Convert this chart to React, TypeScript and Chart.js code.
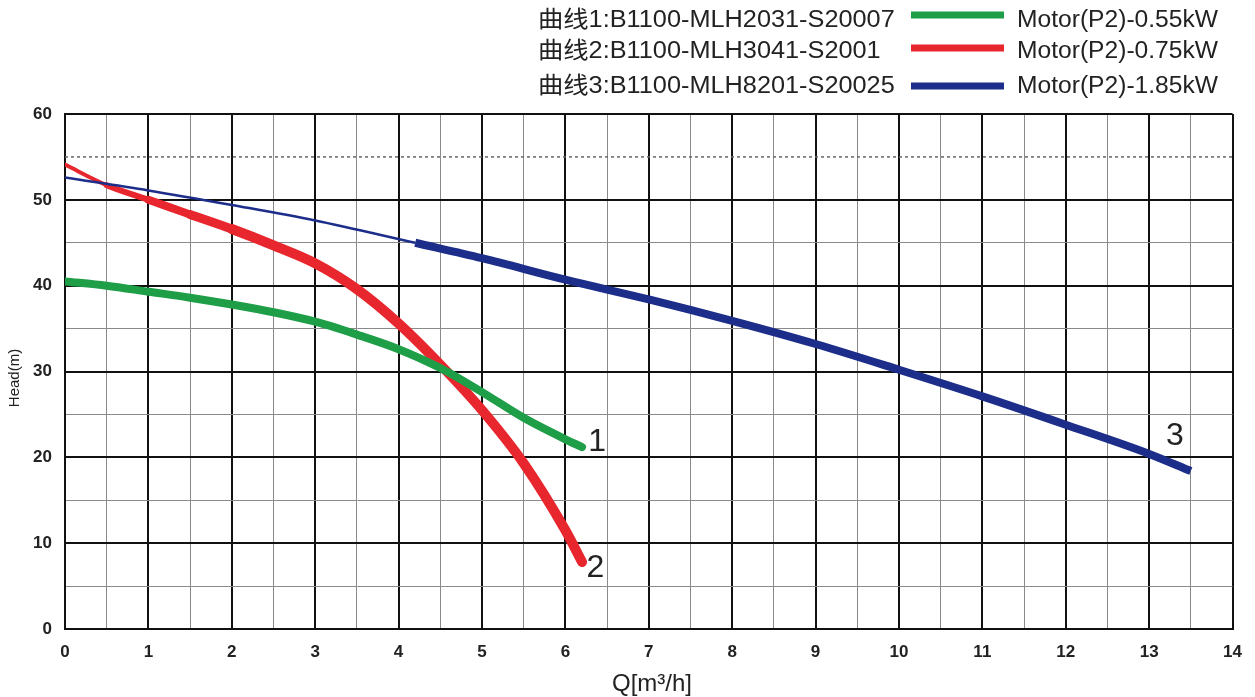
import React, { useEffect, useRef } from 'react';
import { Chart, registerables } from 'chart.js';

Chart.register(...registerables);

// ---- data ----
const flowCurve1 = [0, 0.5, 1, 1.5, 2, 2.5, 3, 3.5, 4, 4.5, 5, 5.5, 6, 6.2];
const headCurve1 = [40.5, 40.0, 39.3, 38.6, 37.8, 36.9, 35.8, 34.3, 32.6, 30.4, 27.6, 24.6, 22.1, 21.2];

const flowCurve2 = [0, 0.5, 1, 1.5, 2, 2.5, 3, 3.5, 4, 4.5, 5, 5.5, 6, 6.2];
const headCurve2 = [54.1, 51.7, 50.0, 48.3, 46.6, 44.7, 42.6, 39.6, 35.6, 30.8, 25.5, 19.3, 11.5, 7.8];

const flowCurve3Thin = [0, 1, 2, 3, 4.2];
const headCurve3Thin = [52.6, 51.1, 49.4, 47.6, 45.0];
const flowCurve3 = [4.2, 5, 6, 7, 8, 9, 10, 11, 12, 13, 13.5];
const headCurve3 = [45.0, 43.2, 40.7, 38.4, 35.9, 33.2, 30.2, 27.1, 23.8, 20.4, 18.4];

const refFlow = [0, 14];
const refHead = [55, 55];

const xTickLabels = ['0', '1', '2', '3', '4', '5', '6', '7', '8', '9', '10', '11', '12', '13', '14'];
const yTickLabels = ['0', '10', '20', '30', '40', '50', '60'];

const legendModels = ['曲线1:B1100-MLH2031-S20007', '曲线2:B1100-MLH3041-S2001', '曲线3:B1100-MLH8201-S20025'];
const legendMotors = ['Motor(P2)-0.55kW', 'Motor(P2)-0.75kW', 'Motor(P2)-1.85kW'];
const curveNames = ['1', '2', '3'];
const curveNameQ = [6.38, 6.36, 13.31];
const curveNameH = [21.8, 7.1, 22.5];

const GREEN = '#1f9e48';
const RED = '#e8262d';
const BLUE = '#1c2d8a';
const COLORS = [GREEN, RED, BLUE];

const pts = (xs: number[], ys: number[]) => xs.map((x, i) => ({ x, y: ys[i] }));

const overlay = {
  id: 'overlay',
  afterDraw(chart: any) {
    const ctx = chart.ctx as CanvasRenderingContext2D;
    const xs = chart.scales.x;
    const ys = chart.scales.y;
    ctx.save();
    // legend
    const baselines = [27, 58, 93];
    const swatchY = [15, 48, 86];
    ctx.textBaseline = 'alphabetic';
    ctx.fillStyle = '#222';
    for (let i = 0; i < 3; i++) {
      ctx.font = '23px "Liberation Sans", Arial, "Noto Sans CJK SC", sans-serif';
      ctx.save();
      ctx.translate(538, baselines[i]);
      ctx.scale(1.1, 1);
      ctx.textAlign = 'left';
      ctx.fillText(legendModels[i], 0, 0);
      ctx.restore();

      ctx.beginPath();
      ctx.strokeStyle = COLORS[i];
      ctx.lineWidth = 7;
      ctx.moveTo(911, swatchY[i]);
      ctx.lineTo(1004, swatchY[i]);
      ctx.stroke();

      ctx.save();
      ctx.translate(1017, baselines[i]);
      ctx.scale(1.07, 1);
      ctx.fillText(legendMotors[i], 0, 0);
      ctx.restore();
    }
    // curve numbers
    ctx.font = '32px "Liberation Sans", Arial, sans-serif';
    ctx.textAlign = 'center';
    ctx.textBaseline = 'middle';
    for (let i = 0; i < 3; i++) {
      ctx.fillText(curveNames[i], xs.getPixelForValue(curveNameQ[i]), ys.getPixelForValue(curveNameH[i]));
    }
    // axis titles
    ctx.font = '24px "Liberation Sans", Arial, sans-serif';
    ctx.textBaseline = 'alphabetic';
    ctx.fillText('Q[m³/h]', 652, 691);
    ctx.save();
    ctx.translate(19, 378);
    ctx.rotate(-Math.PI / 2);
    ctx.font = '15px "Liberation Sans", Arial, sans-serif';
    ctx.textAlign = 'center';
    ctx.fillText('Head(m)', 0, 0);
    ctx.restore();
    ctx.restore();
  },
};

export default function App() {
  const ref = useRef<HTMLCanvasElement>(null);
  useEffect(() => {
    if (!ref.current) return;
    const chart = new Chart(ref.current, {
      type: 'line',
      data: {
        datasets: [
          {
            data: pts(flowCurve3Thin, headCurve3Thin),
            borderColor: BLUE,
            borderWidth: 2.5,
            pointRadius: 0,
            cubicInterpolationMode: 'monotone',
          },
          {
            data: pts(flowCurve1, headCurve1),
            borderColor: GREEN,
            borderWidth: 8,
            pointRadius: 0,
            cubicInterpolationMode: 'monotone',
            borderCapStyle: 'round',
          },
          {
            data: pts(flowCurve2, headCurve2),
            borderColor: RED,
            borderWidth: 10,
            pointRadius: 0,
            cubicInterpolationMode: 'monotone',
            borderCapStyle: 'round',
            segment: {
              borderWidth: (c: any) => [4, 6, 8, 9][c.p0DataIndex] ?? 10,
            },
          },
          {
            data: pts(flowCurve3, headCurve3),
            borderColor: BLUE,
            borderWidth: 8,
            pointRadius: 0,
            cubicInterpolationMode: 'monotone',
            borderCapStyle: 'butt',
          },
          {
            data: pts(refFlow, refHead),
            borderColor: '#666',
            borderWidth: 1.5,
            borderDash: [3, 3],
            pointRadius: 0,
          },
        ] as any,
      },
      options: {
        responsive: false,
        animation: false,
        layout: { padding: { left: 0, top: 114, right: 18, bottom: 0 } },
        plugins: { legend: { display: false }, tooltip: { enabled: false } },
        scales: {
          x: {
            type: 'linear',
            min: 0,
            max: 14,
            afterFit: (s: any) => { s.height = 68; },
            ticks: {
              stepSize: 0.5,
              autoSkip: false,
              maxRotation: 0,
              padding: 13,
              color: '#222',
              font: { family: '"Liberation Sans", Arial, sans-serif', size: 17, weight: 'bold' },
              callback: (v: any) => (Number.isInteger(v) ? xTickLabels[v] : ''),
            },
            grid: {
              drawTicks: false,
              color: (c: any) => (Number.isInteger(c.tick?.value) ? '#111' : '#8a8a8a'),
              lineWidth: (c: any) => (Number.isInteger(c.tick?.value) ? 2 : 1),
            },
            border: { display: true, color: '#111', width: 2 },
          },
          y: {
            type: 'linear',
            min: 0,
            max: 60,
            afterFit: (s: any) => { s.width = 65; },
            ticks: {
              stepSize: 5,
              autoSkip: false,
              padding: 13,
              color: '#222',
              font: { family: '"Liberation Sans", Arial, sans-serif', size: 17, weight: 'bold' },
              callback: (v: any) => (v % 10 === 0 ? yTickLabels[v / 10] : ''),
            },
            grid: {
              drawTicks: false,
              color: (c: any) => {
                const v = c.tick?.value;
                if (v === 55) return 'rgba(0,0,0,0)';
                return v % 10 === 0 ? '#111' : '#8a8a8a';
              },
              lineWidth: (c: any) => (c.tick?.value % 10 === 0 ? 2 : 1),
            },
            border: { display: true, color: '#111', width: 2 },
          },
        },
      } as any,
      plugins: [overlay],
    });
    return () => chart.destroy();
  }, []);
  return (
    <div style={{ position: 'absolute', left: 0, top: 0, width: 1255, height: 697, background: '#fff' }}>
      <canvas ref={ref} width={1255} height={697} style={{ display: 'block' }} />
    </div>
  );
}
